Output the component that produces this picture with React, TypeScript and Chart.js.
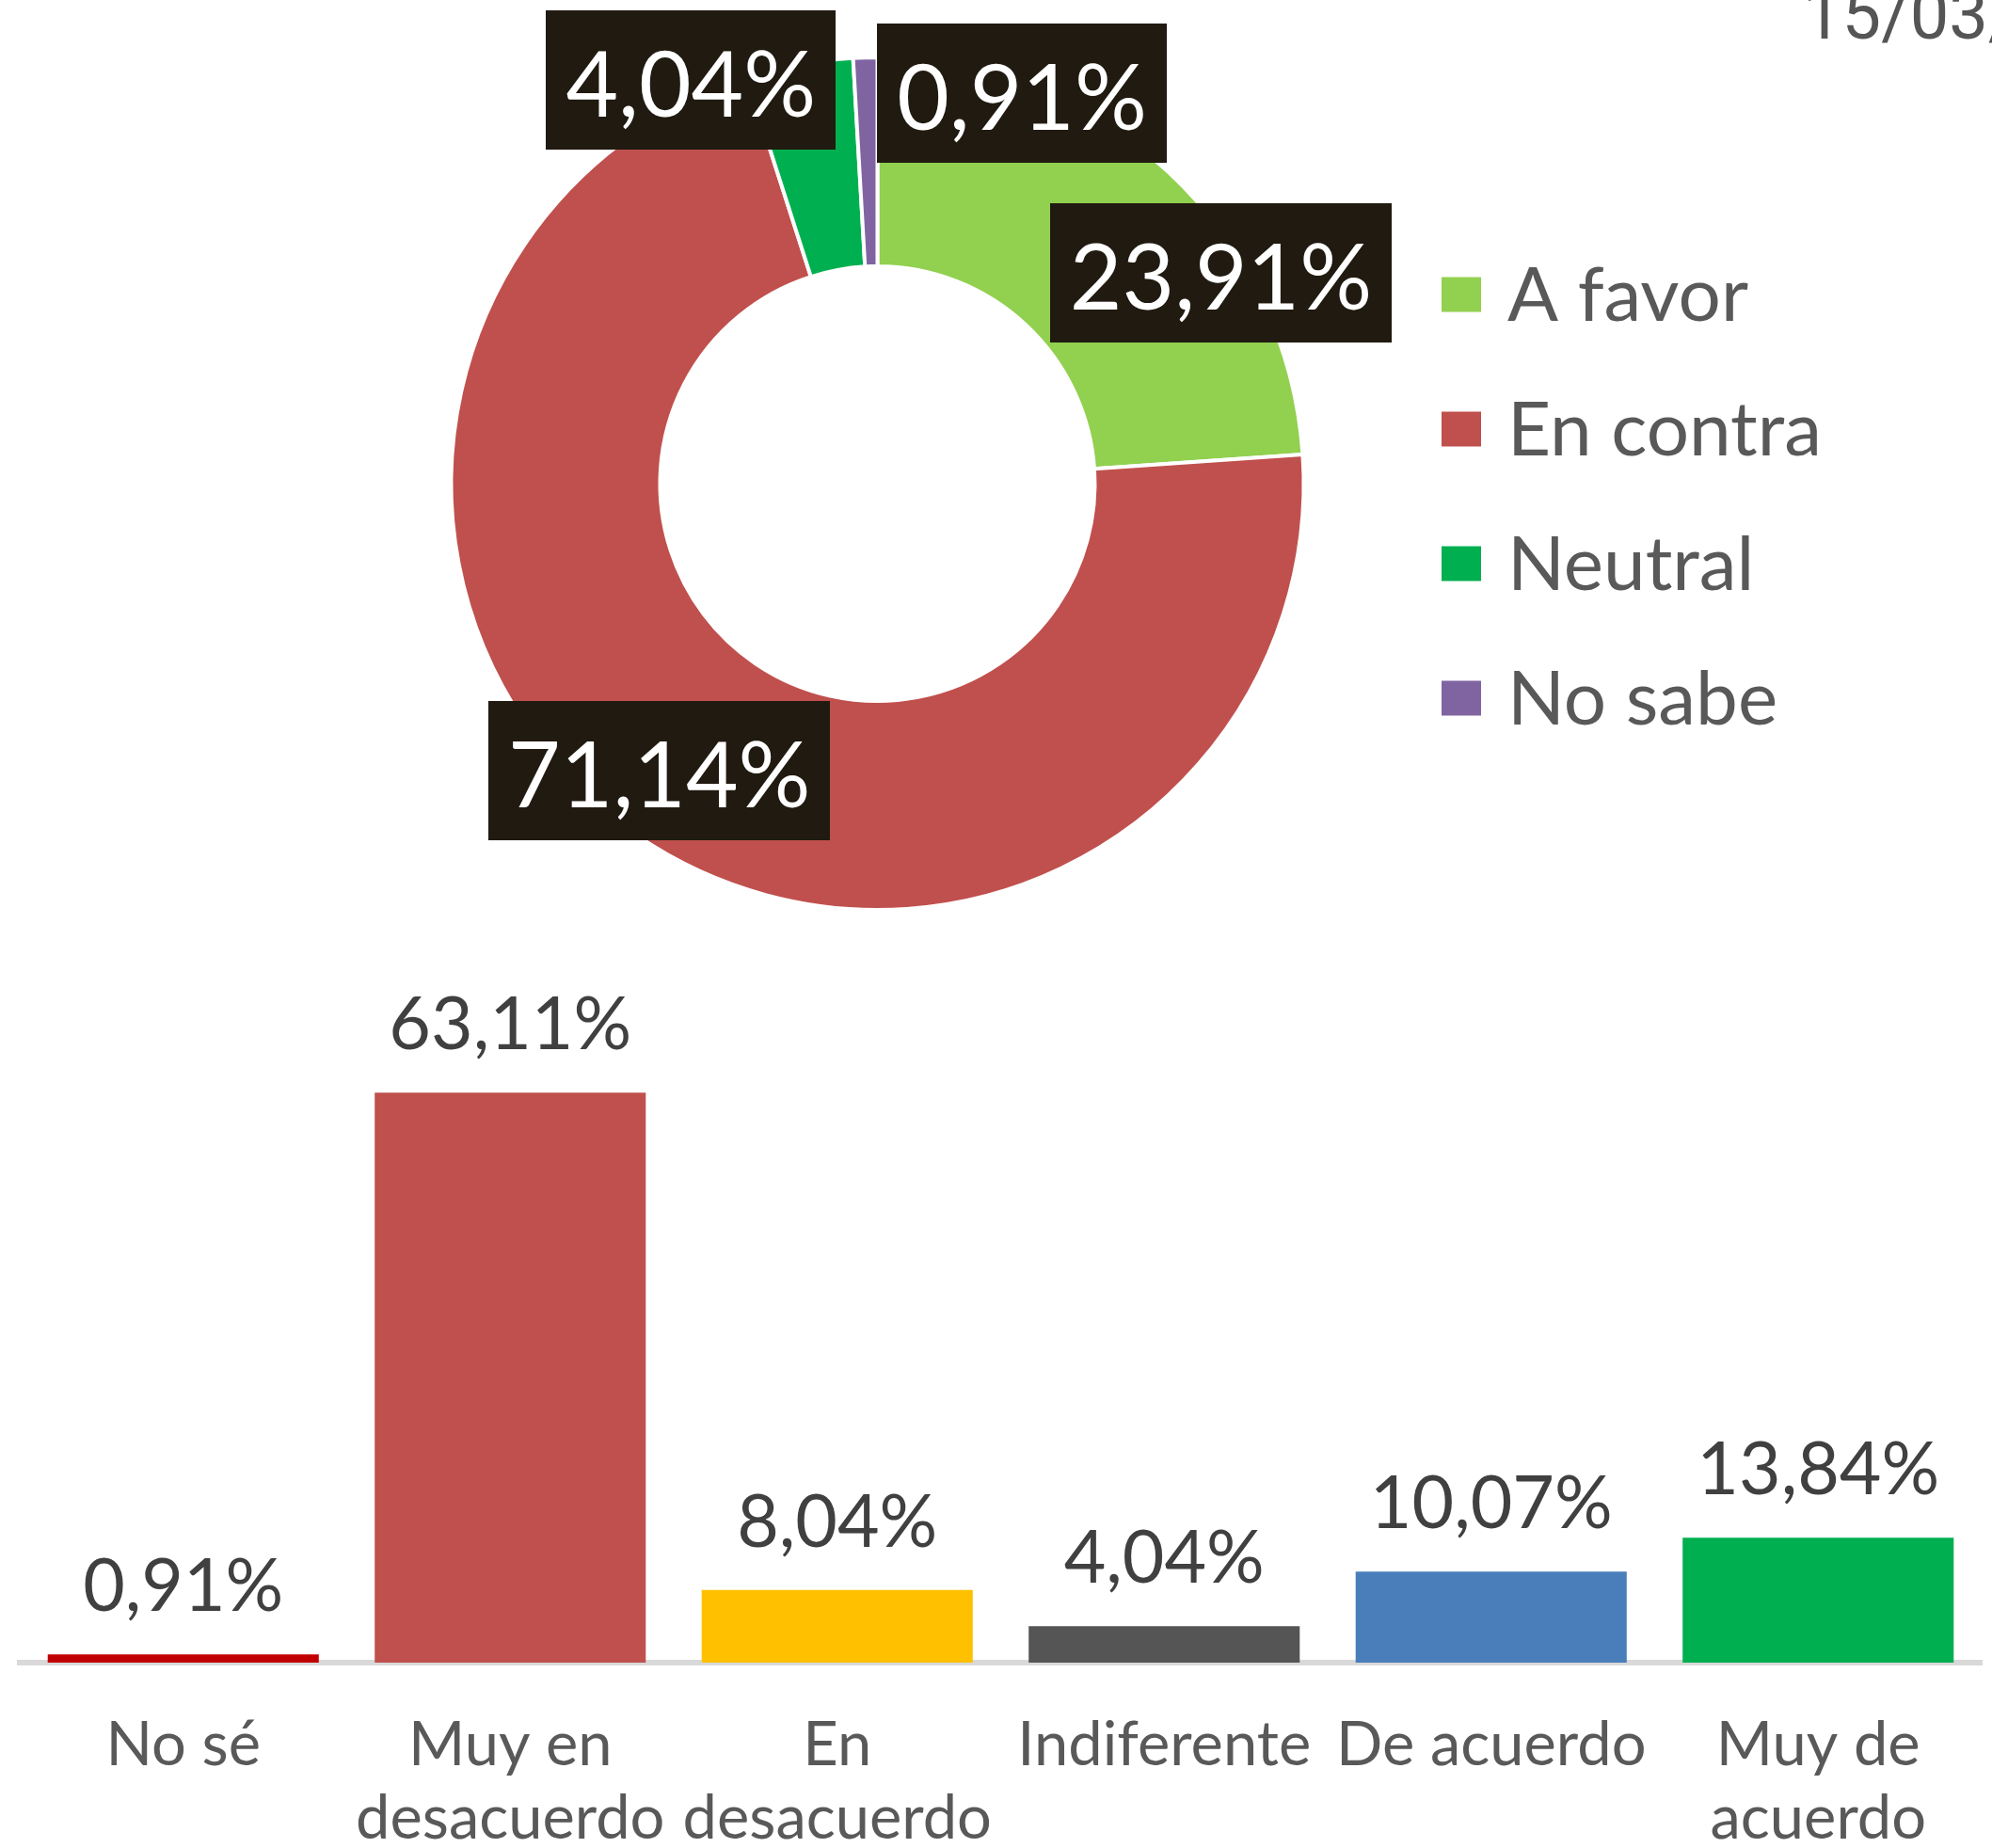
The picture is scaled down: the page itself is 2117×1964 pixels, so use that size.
import React, { useEffect, useRef } from 'react';
import { Chart, registerables } from 'chart.js';

Chart.register(...registerables);

// ---------- data ----------
const donutLabels = ['A favor', 'En contra', 'Neutral', 'No sabe'];
const donutValues = [23.91, 71.14, 4.04, 0.91];
const donutColors = ['#92D050', '#C0504D', '#00B050', '#8064A2'];
// label placement (angle from 12 o'clock clockwise, distance as fraction of outer radius)
const donutLabelAngles = [58.5, 217.2, 335.2, 20.3];
const donutLabelDist = [0.945, 0.846, 1.043, 0.977];

const barCategories: (string | string[])[] = [
  'No sé',
  ['Muy en', 'desacuerdo'],
  ['En', 'desacuerdo'],
  'Indiferente',
  'De acuerdo',
  ['Muy de', 'acuerdo'],
];
const barValues = [0.91, 63.11, 8.04, 4.04, 10.07, 13.84];
const barColors = ['#C00000', '#C0504D', '#FFC000', '#555555', '#4A7EBB', '#00B050'];

const dateText = '15/03/';

const fmt = (v: number) => v.toFixed(2).replace('.', ',') + '%';

const FONT = 'Lato, "Open Sans", sans-serif';

// ---------- donut plugin ----------
const donutDecor = {
  id: 'donutDecor',
  afterDraw(chart: any) {
    const ctx = chart.ctx;
    const meta = chart.getDatasetMeta(0);
    ctx.save();
    // data labels
    const fs = 96;
    ctx.font = `${fs}px ${FONT}`;
    meta.data.forEach((arc: any, i: number) => {
      const { x, y, outerRadius } = arc.getProps(['x', 'y', 'outerRadius'], true);
      const a = ((donutLabelAngles[i] - 90) * Math.PI) / 180;
      const d = donutLabelDist[i] * outerRadius;
      const cx = x + Math.cos(a) * d;
      const cy = y + Math.sin(a) * d;
      const txt = fmt(donutValues[i]);
      const w = ctx.measureText(txt).width + 42;
      const h = 148;
      ctx.fillStyle = '#201A10';
      ctx.fillRect(Math.round(cx - w / 2), Math.round(cy - h / 2), Math.round(w), h);
      ctx.fillStyle = '#FFFFFF';
      ctx.textAlign = 'center';
      ctx.textBaseline = 'alphabetic';
      ctx.fillText(txt, cx, cy + 39);
    });
    // legend
    const first = meta.data[0];
    const { y: ccy } = first.getProps(['x', 'y'], true);
    const sqX = chart.chartArea.right + 144;
    const rowGap = 143;
    ctx.font = `80px ${FONT}`;
    ctx.textAlign = 'left';
    donutLabels.forEach((lab, i) => {
      const cy = ccy + 13.5 + (i - 1.5) * rowGap;
      ctx.fillStyle = donutColors[i];
      ctx.fillRect(sqX, cy - 18.5, 42, 37);
      ctx.fillStyle = '#595959';
      ctx.fillText(lab, sqX + 70, cy + 28);
    });
    // partial date text at top right
    ctx.font = '74px Roboto, sans-serif';
    ctx.fillStyle = '#555555';
    ctx.textAlign = 'left';
    ctx.fillText(dateText, 1916, 41);
    ctx.restore();
  },
};

// ---------- bar plugin ----------
const barDecor = {
  id: 'barDecor',
  afterDraw(chart: any) {
    const ctx = chart.ctx;
    const meta = chart.getDatasetMeta(0);
    ctx.save();
    ctx.font = `77px ${FONT}`;
    ctx.fillStyle = '#404040';
    ctx.textAlign = 'center';
    ctx.textBaseline = 'alphabetic';
    meta.data.forEach((bar: any, i: number) => {
      const { x, y } = bar.getProps(['x', 'y'], true);
      ctx.fillText(fmt(barValues[i]), x, y - 46);
    });
    ctx.restore();
  },
};

export default function App() {
  const donutRef = useRef<HTMLCanvasElement>(null);
  const barRef = useRef<HTMLCanvasElement>(null);

  useEffect(() => {
    const donut = new Chart(donutRef.current as HTMLCanvasElement, {
      type: 'doughnut',
      data: {
        labels: donutLabels,
        datasets: [
          {
            data: donutValues,
            backgroundColor: donutColors,
            borderColor: '#FFFFFF',
            borderWidth: 4,
          },
        ],
      },
      options: {
        responsive: false,
        animation: false,
        cutout: '51%',
        layout: { padding: { left: 477, right: 729, top: 59, bottom: 31 } },
        plugins: { legend: { display: false }, tooltip: { enabled: false } },
      },
      plugins: [donutDecor],
    } as any);

    const bar = new Chart(barRef.current as HTMLCanvasElement, {
      type: 'bar',
      data: {
        labels: barCategories,
        datasets: [
          {
            data: barValues,
            backgroundColor: barColors,
            barPercentage: 0.829,
            categoryPercentage: 1,
          },
        ],
      },
      options: {
        responsive: false,
        animation: false,
        layout: { padding: { left: 21, right: 11, top: 135, bottom: 0 } },
        scales: {
          x: {
            z: 1,
            grid: { display: false, drawTicks: false },
            border: { display: true, color: '#D9D9D9', width: 6 },
            ticks: {
              font: { family: FONT, size: 65, lineHeight: 1.2 },
              color: '#595959',
              padding: 49,
              maxRotation: 0,
              autoSkip: false,
            },
            afterFit: (s: any) => {
              s.height = 293;
            },
          },
          y: { display: false, min: 0, max: 70 },
        },
        plugins: { legend: { display: false }, tooltip: { enabled: false } },
      },
      plugins: [barDecor],
    } as any);

    return () => {
      donut.destroy();
      bar.destroy();
    };
  }, []);

  return (
    <div
      style={{
        position: 'absolute',
        left: 0,
        top: 0,
        width: 2117,
        height: 1964,
        overflow: 'hidden',
        background: '#FFFFFF',
      }}
    >
      <canvas
        ref={donutRef}
        width={2117}
        height={1000}
        style={{ position: 'absolute', left: 0, top: 0, width: 2117, height: 1000 }}
      />
      <canvas
        ref={barRef}
        width={2117}
        height={1100}
        style={{ position: 'absolute', left: 0, top: 960, width: 2117, height: 1100 }}
      />
    </div>
  );
}
